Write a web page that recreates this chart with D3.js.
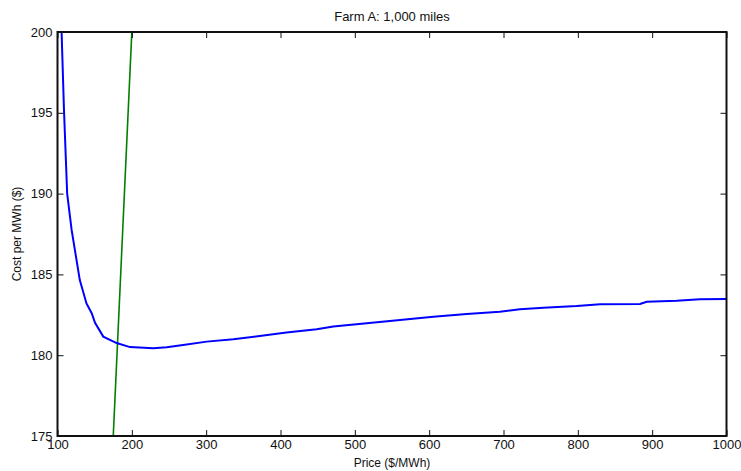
<!DOCTYPE html>
<html>
<head>
<meta charset="utf-8">
<script src="https://cdn.jsdelivr.net/npm/d3@7"></script>
<style>
  body { margin: 0; background: #fff; }
  text { font-family: "Liberation Sans", Arial, sans-serif; fill: #111; }
</style>
</head>
<body>
<svg id="chart" width="741" height="471"></svg>
<script>
// cost curve
var price = [105.5, 108.7, 113, 119, 130, 139, 146, 150.5, 161.6, 179.6, 197.5, 229, 247, 269, 300.7, 336.5, 372, 408, 448.7, 471, 516, 560.8, 605.6, 650.5, 695, 722, 753.6, 798.5, 830, 883.7, 892.7, 933, 964, 1000]
var cost = [200, 195.2, 190, 187.75, 184.65, 183.2, 182.6, 182.0, 181.15, 180.75, 180.5, 180.43, 180.49, 180.63, 180.84, 180.98, 181.19, 181.4, 181.6, 181.77, 181.97, 182.18, 182.38, 182.55, 182.69, 182.84, 182.94, 183.04, 183.15, 183.17, 183.31, 183.37, 183.46, 183.48]
// break-even line cost = price
var evenPrice = [175, 200]
var evenCost = [175, 200]
var xTicks = [100, 200, 300, 400, 500, 600, 700, 800, 900, 1000]
var yTicks = [175, 180, 185, 190, 195, 200]

var svg = d3.select("#chart")
var m = {left: 57.5, right: 726.5, top: 32, bottom: 436}

var x = d3.scaleLinear().domain([100, 1000]).range([m.left, m.right])
var y = d3.scaleLinear().domain([175, 200]).range([m.bottom, m.top])

svg.append("clipPath").attr("id", "clip")
  .append("rect").attr("x", m.left).attr("y", m.top).attr("width", m.right - m.left).attr("height", m.bottom - m.top)

var line = d3.line().x(function(d){ return x(d[0]) }).y(function(d){ return y(d[1]) })

svg.append("path")
  .datum(d3.zip(evenPrice, evenCost))
  .attr("clip-path", "url(#clip)")
  .attr("d", line).attr("fill", "none").attr("stroke", "#008000").attr("stroke-width", 1.6)

svg.append("path")
  .datum(d3.zip(price, cost))
  .attr("clip-path", "url(#clip)")
  .attr("d", line).attr("fill", "none").attr("stroke", "#0000ff").attr("stroke-width", 2)

// axes, ticks pointing inward on all four sides
var tk = 6
function styleAxis(g){
  g.select(".domain").remove()
  g.selectAll(".tick line").attr("stroke", "#111").attr("stroke-width", 1)
  g.selectAll(".tick text").attr("font-size", 13).attr("fill", "#111")
}
svg.append("g").attr("transform", "translate(0," + m.bottom + ")")
  .call(d3.axisBottom(x).tickValues(xTicks).tickSize(-tk).tickPadding(4).tickFormat(d3.format("d")))
  .call(styleAxis)
svg.append("g").attr("transform", "translate(0," + m.top + ")")
  .call(d3.axisTop(x).tickValues(xTicks).tickSize(-tk).tickFormat(""))
  .call(styleAxis)
svg.append("g").attr("transform", "translate(" + m.left + ",0)")
  .call(d3.axisLeft(y).tickValues(yTicks).tickSize(-tk).tickPadding(5).tickFormat(d3.format("d")))
  .call(styleAxis)
svg.append("g").attr("transform", "translate(" + m.right + ",0)")
  .call(d3.axisRight(y).tickValues(yTicks).tickSize(-tk).tickFormat(""))
  .call(styleAxis)

svg.append("rect").attr("x", m.left).attr("y", m.top).attr("width", m.right - m.left).attr("height", m.bottom - m.top)
  .attr("fill", "none").attr("stroke", "#111").attr("stroke-width", 2)

svg.append("text").attr("x", (m.left + m.right) / 2).attr("y", 21).attr("text-anchor", "middle")
  .attr("font-size", 13).text("Farm A: 1,000 miles")
svg.append("text").attr("x", (m.left + m.right) / 2).attr("y", 467).attr("text-anchor", "middle")
  .attr("font-size", 12).text("Price ($/MWh)")
svg.append("text").attr("transform", "translate(21," + (m.top + m.bottom) / 2 + ") rotate(-90)")
  .attr("text-anchor", "middle").attr("font-size", 12).text("Cost per MWh ($)")
</script>
</body>
</html>
